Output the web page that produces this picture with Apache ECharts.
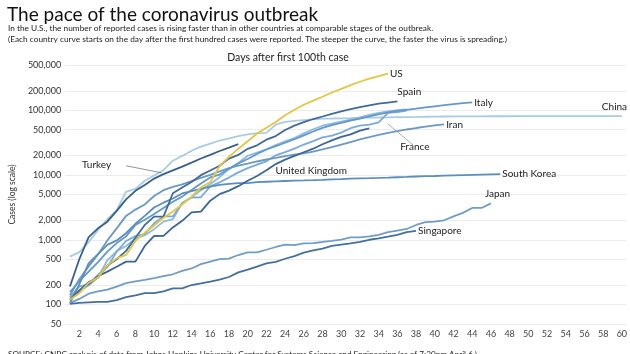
<!DOCTYPE html>
<html>
<head>
<meta charset="utf-8">
<script src="https://cdn.jsdelivr.net/npm/echarts@6/dist/echarts.min.js"></script>
<style>
  html, body { margin: 0; padding: 0; background: #fff; }
  #main { width: 630px; height: 354px; }
</style>
</head>
<body>
<div id="main"></div>
<script>
// cases by day after the first 100th case (day 1 = first value)
var us = [118, 149, 217, 262, 402, 518, 583, 959, 1281, 1663, 2179, 2727, 3499, 4632, 6421, 7786, 13680, 19101,
  25493, 33276, 43847, 53740, 65778, 83836, 101657, 121478, 140886, 161807, 188172, 213372, 243762, 275586,
  308853, 337072, 366614];
var spain = [120, 165, 222, 259, 400, 500, 673, 1073, 1695, 2277, 2277, 5232, 6391, 7798, 9942, 11748, 13910,
  17963, 20410, 25374, 28768, 35136, 39885, 49515, 57786, 65719, 73235, 80110, 87956, 95923, 104118, 112065,
  119199, 126168, 131646, 136675];
var italy = [155, 229, 322, 453, 655, 888, 1128, 1694, 2036, 2502, 3089, 3858, 4636, 5883, 7375, 9172, 10149,
  12462, 15113, 17660, 21157, 24747, 27980, 31506, 35713, 41035, 47021, 53578, 59138, 63927, 69176, 74386,
  80589, 86498, 92472, 97689, 101739, 105792, 110574, 115242, 119827, 124632, 128948, 132547];
var germany = [130, 159, 196, 262, 482, 670, 799, 1040, 1176, 1457, 1908, 2078, 3675, 4585, 5795, 7272, 9257,
  12327, 15320, 19848, 22213, 24873, 29056, 32986, 37323, 43938, 50871, 57695, 62095, 66885, 71808, 77872,
  84794, 91159, 96092, 100123, 103374];
var france = [130, 191, 204, 288, 380, 656, 957, 1136, 1219, 1794, 2293, 2293, 3681, 4496, 4532, 6683, 7715,
  9124, 10970, 12758, 14463, 16243, 20123, 22622, 25600, 29551, 33402, 38105, 40708, 45170, 52827, 57749,
  59929, 65202, 90848, 93790, 98963];
var china = [548, 643, 920, 1406, 2075, 2877, 5509, 6087, 8141, 9802, 11891, 16630, 19716, 23707, 27440, 30587,
  34110, 36814, 39829, 42354, 44386, 44759, 59895, 66358, 68413, 70513, 72434, 74211, 74619, 75077, 75550,
  77001, 77022, 77241, 77754, 78166, 78600, 78928, 79356, 79932, 80136, 80261, 80386, 80537, 80690, 80770,
  80823, 80860, 80887, 80921, 80932, 80945, 80977, 81003, 81033, 81058, 81102, 81156, 81250, 81305];
var iran = [139, 245, 388, 593, 978, 1501, 2336, 2922, 3513, 4747, 5823, 6566, 7161, 8042, 9000, 10075, 11364,
  12729, 13938, 14991, 16169, 17361, 18407, 19644, 20610, 21638, 23049, 24811, 27017, 29406, 32332, 35408,
  38309, 41495, 44605, 47593, 50468, 53183, 55743, 58226, 60500];
var uk = [116, 164, 207, 274, 322, 384, 459, 459, 802, 1144, 1145, 1551, 1960, 2642, 2716, 4014, 5067, 5745,
  6726, 8164, 9640, 11812, 14745, 17312, 19780, 22453, 25481, 29865, 34173, 38689, 42477, 48436, 52279];
var turkey = [190, 500, 1100, 1500, 1900, 2800, 4200, 5700, 7000, 8800, 10300, 11800, 13500, 15500, 18000,
  20500, 23500, 26500, 30000];
var southKorea = [104, 204, 433, 602, 833, 977, 1261, 1766, 2337, 3150, 3736, 4335, 5186, 5621, 6088, 6593,
  7041, 7314, 7478, 7513, 7755, 7869, 7979, 8086, 8162, 8236, 8320, 8413, 8565, 8652, 8799, 8897, 8961,
  9037, 9137, 9241, 9332, 9478, 9583, 9661, 9786, 9887, 9976, 10062, 10156, 10237, 10284];
var japan = [105, 122, 147, 159, 170, 189, 214, 228, 241, 256, 274, 293, 331, 360, 420, 461, 502, 511, 581,
  639, 639, 701, 773, 839, 825, 878, 889, 924, 963, 1007, 1086, 1086, 1128, 1193, 1307, 1387, 1468, 1693,
  1866, 1900, 2000, 2300, 2600, 3100, 3100, 3650];
var singapore = [102, 106, 108, 110, 110, 117, 130, 138, 150, 150, 160, 178, 178, 200, 212, 226, 243, 266, 313,
  345, 385, 432, 455, 509, 558, 631, 683, 732, 802, 844, 879, 926, 1000, 1049, 1114, 1189, 1309, 1375];

var yTicks = [50, 100, 200, 500, 1000, 2000, 5000, 10000, 20000, 50000, 100000, 200000, 500000];
var xTicks = [];
for (var t = 2; t <= 60; t += 2) xTicks.push(t);

var chart = echarts.init(document.getElementById('main'));

function pts(arr) {
  return arr.map(function (v, i) { return [i + 1, v]; });
}

var labelFont = { fontFamily: 'Lato', fontSize: 10, color: '#222' };

function country(name, arr, color, endOffset, z) {
  var s = {
    name: name,
    type: 'line',
    data: pts(arr),
    showSymbol: false,
    symbol: 'none',
    z: z || 2,
    lineStyle: { color: color, width: 1.8 },
    emphasis: { disabled: true }
  };
  if (endOffset) {
    s.endLabel = Object.assign({
      show: true,
      formatter: name,
      distance: 2,
      offset: endOffset
    }, labelFont);
  }
  return s;
}

var series = [
  country('China', china, '#a8cce5', [-22, -9], 1),
  country('Germany', germany, '#8cbbe0', null, 2),
  country('France', france, '#7aabd6', null, 2),
  country('Iran', iran, '#6a9ac4', [0, 0], 2),
  country('Italy', italy, '#6399c8', [0, 0], 2),
  country('South Korea', southKorea, '#5a8ebd', [0, 0], 2),
  country('Japan', japan, '#6e9ec8', [-8, -10], 2),
  country('Singapore', singapore, '#44709e', [0, 0], 2),
  country('United Kingdom', uk, '#3b6796', null, 3),
  country('Turkey', turkey, '#36618f', null, 3),
  country('Spain', spain, '#3f6b9c', [-2, -10], 3),
  country('US', us, '#e6c53f', [0, 0], 4)
];

// annotation labels with leader lines
series[9].markLine = {
  silent: true,
  symbol: 'none',
  lineStyle: { color: '#777', width: 0.8, type: 'solid' },
  label: Object.assign({ show: true, position: 'start', formatter: 'Turkey', distance: 3, padding: [0, 12, 0, 0] }, labelFont),
  data: [[{ coord: [7.0, 13900] }, { coord: [10.8, 10800] }]]
};
series[2].markLine = {
  silent: true,
  symbol: 'none',
  lineStyle: { color: '#999', width: 0.8, type: 'solid' },
  label: Object.assign({ show: true, position: 'start', formatter: 'France', distance: 2 }, labelFont),
  data: [[{ coord: [37.7, 29000] }, { coord: [34.95, 62000] }]]
};
series[8].markPoint = {
  silent: true,
  symbol: 'rect',
  symbolSize: 0,
  label: Object.assign({ show: true, formatter: 'United Kingdom', position: 'inside' }, labelFont),
  data: [{ coord: [26.8, 11700] }]
};

var option = {
  animation: false,
  backgroundColor: '#fff',
  title: [
    {
      text: 'The pace of the coronavirus outbreak',
      left: 2, top: 0,
      textStyle: { fontFamily: 'Lato', fontSize: 19, fontWeight: 'normal', color: '#111' }
    },
    {
      text: 'In the U.S., the number of reported cases is rising faster than in other countries at comparable stages of the outbreak.\n(Each country curve starts on the day after the first hundred cases were reported. The steeper the curve, the faster the virus is spreading.)',
      left: 3, top: 18,
      textStyle: { fontFamily: 'Lato', fontSize: 8.3, fontWeight: 'normal', color: '#222', lineHeight: 11 }
    },
    {
      text: 'Days after first 100th case',
      left: 283, top: 47, textAlign: 'center',
      textStyle: { fontFamily: 'Lato', fontSize: 10.5, fontWeight: 'normal', color: '#222' }
    },
    {
      text: 'SOURCE: CNBC analysis of data from Johns Hopkins University Center for Systems Science and Engineering (as of 7:30pm April 6.)',
      left: 3, top: 345,
      textStyle: { fontFamily: 'Lato', fontSize: 8.2, fontWeight: 'normal', color: '#222' }
    }
  ],
  grid: { left: 55, right: 3, top: 65, bottom: 30 },
  xAxis: {
    type: 'value',
    min: 0.5,
    max: 60.5,
    axisLine: { show: false },
    axisTick: { show: false },
    splitLine: { show: false },
    axisLabel: { customValues: xTicks, color: '#444', fontFamily: 'Lato', fontSize: 9, margin: 6 }
  },
  yAxis: {
    type: 'log',
    logBase: 10,
    min: 50,
    max: 500000,
    name: 'Cases (log scale)',
    nameLocation: 'middle',
    nameGap: 41,
    nameTextStyle: { fontFamily: 'Lato', fontSize: 8.5, color: '#333' },
    axisLine: { show: false },
    axisTick: { show: false, customValues: yTicks },
    splitLine: { show: true, lineStyle: { color: '#ececec', width: 1 } },
    axisLabel: {
      customValues: yTicks,
      color: '#333', fontFamily: 'Lato', fontSize: 9, margin: 4,
      formatter: function (v) { return Math.round(v).toLocaleString('en-US'); }
    }
  },
  series: series
};

chart.setOption(option);
</script>
</body>
</html>
